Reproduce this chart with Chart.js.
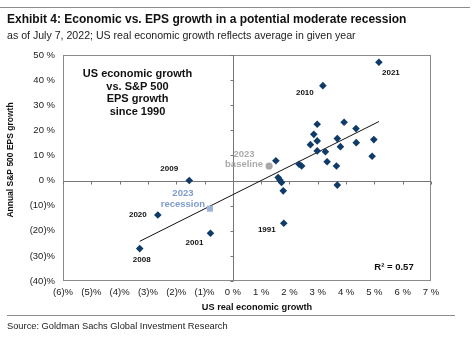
<!DOCTYPE html>
<html>
<head>
<meta charset="utf-8">
<script src="https://cdn.jsdelivr.net/npm/chart.js@4"></script>
<style>
  html, body { margin: 0; padding: 0; background: #fff; }
  canvas { display: block; }
</style>
</head>
<body>
<canvas id="chart" width="474" height="341"></canvas>
<script>
// US real GDP growth (%) vs S&P 500 EPS growth (%), one point per year
const gdpGrowth = [5.16, 3.18, 2.98, 3.93, 4.35, 2.86, 2.98, 3.69, 4.98, 2.74, 3.80, 4.36, 2.98, 3.27, 4.92,
                   3.33, 2.34, 2.43, 3.66, 1.52, 1.60, 1.66, 1.72, 3.69, 1.78, 1.80, -1.54, -2.65, -3.29, -0.79];
const epsGrowth = [47.1, 37.8, 22.4, 23.2, 20.7, 18.4, 15.8, 16.7, 16.3, 14.3, 13.5, 15.1, 11.8, 11.5, 9.7,
                   7.5, 6.5, 5.8, 5.8, 7.9, 1.2, 0.2, -0.8, -1.8, -4.1, -17.0, 0.0, -13.7, -27.1, -21.0];
const pointYears = ['2021', '2010', '', '', '', '', '', '', '', '', '', '', '', '', '',
                    '', '', '', '', '', '', '', '', '', '', '1991', '2009', '2020', '2008', '2001'];

// 2023 scenarios
const baselineGdp = [1.28];
const baselineEps = [5.8];
const recessionGdp = [-0.81];
const recessionEps = [-11.2];

// trend line end points
const trendGdp = [-3.29, 5.16];
const trendEps = [-24.2, 23.5];

const xTicks = [-6, -5, -4, -3, -2, -1, 0, 1, 2, 3, 4, 5, 6, 7];
const yTicks = [-40, -30, -20, -10, 0, 10, 20, 30, 40, 50];

const FONT = "'Liberation Sans', Arial, sans-serif";
const NAVY = '#0f3b69';

function pct(v) {
  return v < 0 ? '(' + (-v) + ')%' : v + ' %';
}

function toPoints(xs, ys) {
  return xs.map((x, i) => ({ x: x, y: ys[i] }));
}

// label offsets (px) from their point
const labelOffsets = {
  '2021': [12, 11], '2010': [-18, 7], '2009': [-20, -12], '2020': [-20, 0],
  '2008': [2, 11], '2001': [-16, 10], '1991': [-17, 7]
};

const decor = {
  id: 'decor',
  beforeDraw(chart) {
    const ctx = chart.ctx;
    const a = chart.chartArea;
    const xs = chart.scales.x, ys = chart.scales.y;
    ctx.save();
    ctx.fillStyle = '#fff';
    ctx.fillRect(0, 0, chart.width, chart.height);

    // plot frame
    ctx.strokeStyle = '#8a8a8a';
    ctx.lineWidth = 1;
    ctx.strokeRect(a.left + 0.5, a.top + 0.5, a.right - a.left - 1, a.bottom - a.top - 1);

    // zero axes with small tick marks
    const x0 = Math.round(xs.getPixelForValue(0)) + 0.5;
    const y0 = Math.round(ys.getPixelForValue(0)) + 0.5;
    ctx.strokeStyle = '#777';
    ctx.beginPath();
    ctx.moveTo(a.left, y0); ctx.lineTo(a.right, y0);
    ctx.moveTo(x0, a.top); ctx.lineTo(x0, a.bottom);
    xTicks.forEach(t => {
      const px = Math.round(xs.getPixelForValue(t)) + 0.5;
      ctx.moveTo(px, y0); ctx.lineTo(px, y0 + 3);
    });
    yTicks.forEach(t => {
      const py = Math.round(ys.getPixelForValue(t)) + 0.5;
      ctx.moveTo(x0 - 3, py); ctx.lineTo(x0, py);
    });
    ctx.stroke();
    ctx.restore();
  },
  afterDatasetsDraw(chart) {
    const ctx = chart.ctx;
    const xs = chart.scales.x, ys = chart.scales.y;
    ctx.save();
    ctx.textAlign = 'center';
    ctx.textBaseline = 'middle';

    // year labels
    ctx.fillStyle = '#111';
    ctx.font = 'bold 8px ' + FONT;
    pointYears.forEach((yr, i) => {
      if (!yr) return;
      const off = labelOffsets[yr];
      const px = xs.getPixelForValue(gdpGrowth[i]);
      const py = ys.getPixelForValue(epsGrowth[i]);
      ctx.fillText(yr, px + off[0], py + off[1]);
    });

    // 2023 scenario labels
    ctx.font = 'bold 9.5px ' + FONT;
    let px = xs.getPixelForValue(baselineGdp[0]);
    let py = ys.getPixelForValue(baselineEps[0]);
    ctx.fillStyle = '#ababab';
    ctx.fillText('2023', px - 25, py - 12);
    ctx.fillText('baseline', px - 25, py - 2);

    px = xs.getPixelForValue(recessionGdp[0]);
    py = ys.getPixelForValue(recessionEps[0]);
    ctx.fillStyle = '#7d9ccb';
    ctx.fillText('2023', px - 27, py - 15);
    ctx.fillText('recession', px - 27, py - 4);

    // inset annotation
    ctx.fillStyle = '#111';
    ctx.font = 'bold 11px ' + FONT;
    ['US economic growth', 'vs. S&P 500', 'EPS growth', 'since 1990'].forEach((t, i) => {
      ctx.fillText(t, 137.5, 74 + i * 12.6);
    });
    ctx.font = 'bold 9.5px ' + FONT;
    ctx.fillText('R\u00b2 = 0.57', 394, 267);
    ctx.restore();
  },
  afterDraw(chart) {
    const ctx = chart.ctx;
    ctx.save();
    // rules
    ctx.strokeStyle = '#8c8c8c';
    ctx.lineWidth = 1;
    ctx.beginPath();
    ctx.moveTo(0, 7.5); ctx.lineTo(470, 7.5);
    ctx.moveTo(7, 315.5); ctx.lineTo(455, 315.5);
    ctx.stroke();

    ctx.fillStyle = '#111';
    ctx.textBaseline = 'middle';
    ctx.textAlign = 'left';
    ctx.font = 'bold 12px ' + FONT;
    ctx.fillText('Exhibit 4: Economic vs. EPS growth in a potential moderate recession', 7, 20);
    ctx.font = '10.6px ' + FONT;
    ctx.fillStyle = '#222';
    ctx.fillText('as of July 7, 2022; US real economic growth reflects average in given year', 7, 36);
    ctx.font = '9.3px ' + FONT;
    ctx.fillText('Source: Goldman Sachs Global Investment Research', 7, 326);

    // axis titles
    ctx.fillStyle = '#111';
    ctx.textAlign = 'center';
    ctx.font = 'bold 9.2px ' + FONT;
    ctx.fillText('US real economic growth', 257, 307);
    ctx.translate(11, 160);
    ctx.rotate(-Math.PI / 2);
    ctx.font = 'bold 8.5px ' + FONT;
    ctx.fillText('Annual S&P 500 EPS growth', 0, 0);
    ctx.restore();
  }
};

new Chart(document.getElementById('chart'), {
  type: 'scatter',
  data: {
    datasets: [
      {
        label: 'Trend',
        data: toPoints(trendGdp, trendEps),
        showLine: true,
        borderColor: '#111',
        borderWidth: 1,
        pointRadius: 0,
        order: 3
      },
      {
        label: 'Years since 1990',
        data: toPoints(gdpGrowth, epsGrowth),
        pointStyle: 'rectRot',
        pointRadius: 3.8,
        backgroundColor: NAVY,
        borderWidth: 0,
        order: 1
      },
      {
        label: '2023 baseline',
        data: toPoints(baselineGdp, baselineEps),
        pointStyle: 'circle',
        pointRadius: 3.6,
        backgroundColor: '#a8a8a8',
        borderWidth: 0,
        order: 2
      },
      {
        label: '2023 recession',
        data: toPoints(recessionGdp, recessionEps),
        pointStyle: 'rect',
        pointRadius: 4.3,
        backgroundColor: '#9db4d8',
        borderWidth: 0,
        order: 2
      }
    ]
  },
  options: {
    responsive: false,
    animation: false,
    layout: { padding: { top: 55, left: 0, right: 43, bottom: 0 } },
    plugins: {
      legend: { display: false },
      tooltip: { enabled: false }
    },
    scales: {
      x: {
        type: 'linear',
        min: -6,
        max: 7,
        afterFit(scale) { scale.height = 60; },
        afterBuildTicks(scale) { scale.ticks = xTicks.map(v => ({ value: v })); },
        grid: { display: false, drawTicks: false },
        border: { display: false },
        ticks: {
          padding: 6,
          maxRotation: 0,
          autoSkip: false,
          color: '#222',
          font: { family: FONT, size: 9.5 },
          callback: v => pct(v)
        }
      },
      y: {
        min: -40,
        max: 50,
        afterFit(scale) { scale.width = 63; },
        afterBuildTicks(scale) { scale.ticks = yTicks.map(v => ({ value: v })); },
        grid: { display: false, drawTicks: false },
        border: { display: false },
        ticks: {
          padding: 8,
          autoSkip: false,
          color: '#222',
          font: { family: FONT, size: 9.5 },
          callback: v => pct(v)
        }
      }
    }
  },
  plugins: [decor]
});
</script>
</body>
</html>
